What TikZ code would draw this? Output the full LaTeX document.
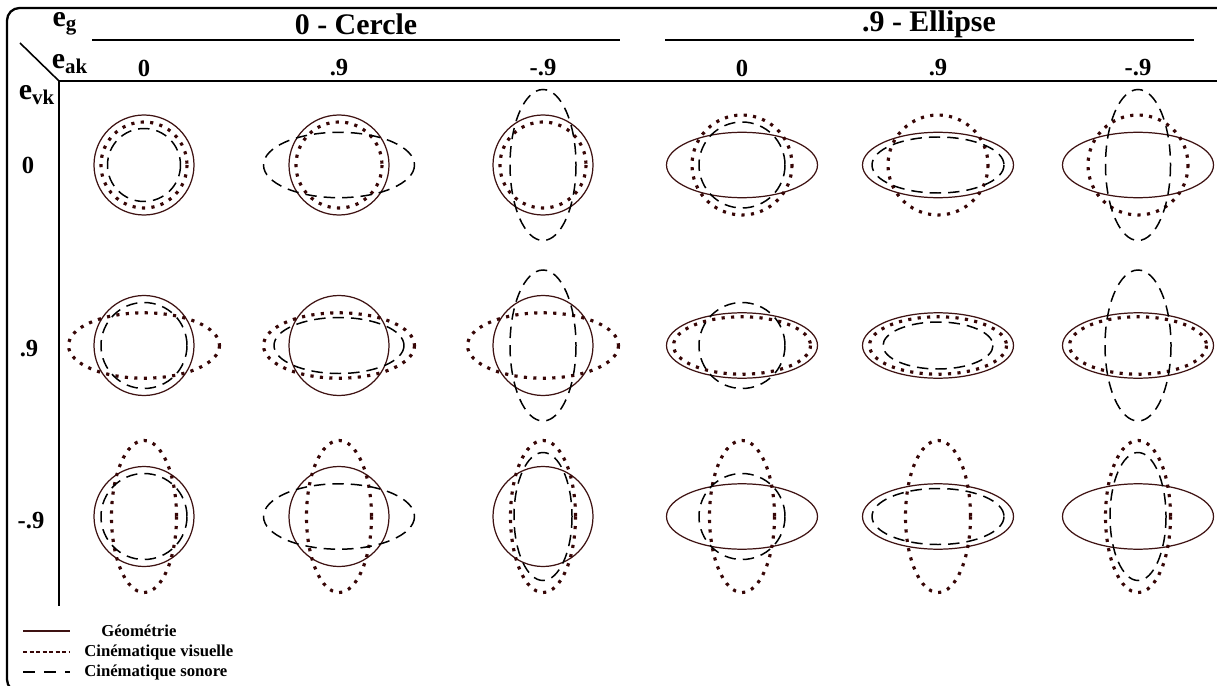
\documentclass[tikz,border=0pt]{standalone}
\usepackage{fontspec}
\setmainfont{Liberation Serif}
\usepackage{tikz}
\usepackage{xcolor}
\definecolor{brun}{RGB}{62,18,18}
\definecolor{brunpt}{RGB}{55,6,6}

\begin{document}
\begin{tikzpicture}[x=0.02cm, y=-0.02cm,
    titre/.style={font=\fontsize{17}{20}\selectfont\bfseries},
    indice/.style={font=\fontsize{17}{20}\selectfont\bfseries, inner sep=0pt},
    valeur/.style={font=\fontsize{14}{16}\selectfont\bfseries},
    legende/.style={font=\fontsize{9.5}{11}\selectfont\bfseries, anchor=west, inner sep=0pt},
    geo/.style={draw=brun, line width=0.7pt},
    visu/.style={draw=brunpt, line width=1.8pt, dash pattern=on 1.8pt off 3.6pt},
    sono/.style={draw=black, line width=0.85pt, dash pattern=on 6.5pt off 4pt}]
    \clip (0,0) rectangle (1217,686);
    \useasboundingbox (0,0) rectangle (1217,686);
    \draw[line width=1.3pt, rounded corners=0.25cm] (1240,8) -- (7,8) -- (7,692) -- (1240,692);

    \draw[line width=0.9pt] (92,40) -- (620,40);
    \draw[line width=0.9pt] (665,40) -- (1194,40);
    \draw[line width=1.1pt] (1217,81) -- (59,81) -- (59,606);
    \draw[line width=0.9pt] (20,43) -- (59,81);

    \node[titre] (cercle) at (356,24) {0 - Cercle};
    \node[titre] (ellipse) at (929,24) {.9 - Ellipse};
    \node[indice] (eg) at (65,24) {e\textsubscript{g}};
    \node[indice] (eak) at (70,64) {e\textsubscript{ak}};
    \node[indice] (evk) at (37,95) {e\textsubscript{vk}};

    \node[valeur] (ak1) at (144,68) {0};
    \node[valeur] (ak2) at (339,68) {.9};
    \node[valeur] (ak3) at (543,68) {-.9};
    \node[valeur] (ak4) at (742,68) {0};
    \node[valeur] (ak5) at (938,68) {.9};
    \node[valeur] (ak6) at (1138,68) {-.9};
    \node[valeur] (vk1) at (28,165) {0};
    \node[valeur] (vk2) at (29,349) {.9};
    \node[valeur] (vk3) at (31,521) {-.9};

    \draw[geo] (144,165) circle [radius=50];
    \draw[visu] (144,165) circle [radius=43];
    \draw[sono] (144,165) circle [radius=36.5];
    \draw[geo] (339,165) circle [radius=50];
    \draw[visu] (339,165) circle [radius=43];
    \draw[sono] (339,165) ellipse [x radius=75.5, y radius=32.7];
    \draw[geo] (543,165) circle [radius=50];
    \draw[visu] (543,165) circle [radius=43];
    \draw[sono] (543,165) ellipse [x radius=33, y radius=75.5];
    \draw[geo] (742,165) ellipse [x radius=75.5, y radius=32.7];
    \draw[visu] (742,165) circle [radius=50];
    \draw[sono] (742,165) circle [radius=43];
    \draw[geo] (938,165) ellipse [x radius=75.5, y radius=32.7];
    \draw[visu] (938,165) circle [radius=50];
    \draw[sono] (938,165) ellipse [x radius=66, y radius=28];
    \draw[geo] (1138,165) ellipse [x radius=75.5, y radius=32.7];
    \draw[visu] (1138,165) circle [radius=50];
    \draw[sono] (1138,165) ellipse [x radius=32.5, y radius=75.5];

    \draw[geo] (144,345.5) circle [radius=50];
    \draw[visu] (144,345.5) ellipse [x radius=75.5, y radius=32.7];
    \draw[sono] (144,345.5) circle [radius=43];
    \draw[geo] (339,345.5) circle [radius=50];
    \draw[visu] (339,345.5) ellipse [x radius=75.5, y radius=32.7];
    \draw[sono] (339,345.5) ellipse [x radius=65, y radius=28];
    \draw[geo] (543,345.5) circle [radius=50];
    \draw[visu] (543,345.5) ellipse [x radius=75.5, y radius=32.7];
    \draw[sono] (543,345.5) ellipse [x radius=33, y radius=75.5];
    \draw[geo] (742,345.5) ellipse [x radius=75.5, y radius=32.7];
    \draw[visu] (742,345.5) ellipse [x radius=68.5, y radius=28.7];
    \draw[sono] (742,345.5) circle [radius=43];
    \draw[geo] (938,345.5) ellipse [x radius=75.5, y radius=32.7];
    \draw[visu] (938,345.5) ellipse [x radius=68.5, y radius=28.7];
    \draw[sono] (938,345.5) ellipse [x radius=55, y radius=23.5];
    \draw[geo] (1138,345.5) ellipse [x radius=75.5, y radius=32.7];
    \draw[visu] (1138,345.5) ellipse [x radius=68.5, y radius=28.7];
    \draw[sono] (1138,345.5) ellipse [x radius=33, y radius=75.5];

    \draw[geo] (144,516.5) circle [radius=50];
    \draw[visu] (144,516.5) ellipse [x radius=32.5, y radius=76];
    \draw[sono] (144,516.5) circle [radius=43];
    \draw[geo] (339,516.5) circle [radius=50];
    \draw[visu] (339,516.5) ellipse [x radius=32.5, y radius=76];
    \draw[sono] (339,516.5) ellipse [x radius=75.5, y radius=32.7];
    \draw[geo] (543,516.5) circle [radius=50];
    \draw[visu] (543,516.5) ellipse [x radius=32.5, y radius=76];
    \draw[sono] (543,516.5) ellipse [x radius=29, y radius=64];
    \draw[geo] (742,516.5) ellipse [x radius=75.5, y radius=32.7];
    \draw[visu] (742,516.5) ellipse [x radius=32.5, y radius=76];
    \draw[sono] (742,516.5) circle [radius=43];
    \draw[geo] (938,516.5) ellipse [x radius=75.5, y radius=32.7];
    \draw[visu] (938,516.5) ellipse [x radius=32.5, y radius=76];
    \draw[sono] (938,516.5) ellipse [x radius=66, y radius=28];
    \draw[geo] (1138,516.5) ellipse [x radius=75.5, y radius=32.7];
    \draw[visu] (1138,516.5) ellipse [x radius=32.5, y radius=76];
    \draw[sono] (1138,516.5) ellipse [x radius=28, y radius=64];

    \node[legende] (lgeo) at (101,631) {Géométrie};
    \node[legende] (lvisu) at (84,652) {Cinématique visuelle};
    \node[legende] (lsono) at (84,672) {Cinématique sonore};
    \draw[geo, line width=0.9pt] (lgeo.west) ++(-78,0) -- ++(47,0);
    \draw[draw=brunpt, line width=1pt, dash pattern=on 2.5pt off 1.2pt] (lvisu.west) ++(-61,0) -- ++(47,0);
    \draw[sono, line width=1pt, dash pattern=on 7pt off 5pt] (lsono.west) ++(-61,0) -- ++(47,0);
\end{tikzpicture}
\end{document}
